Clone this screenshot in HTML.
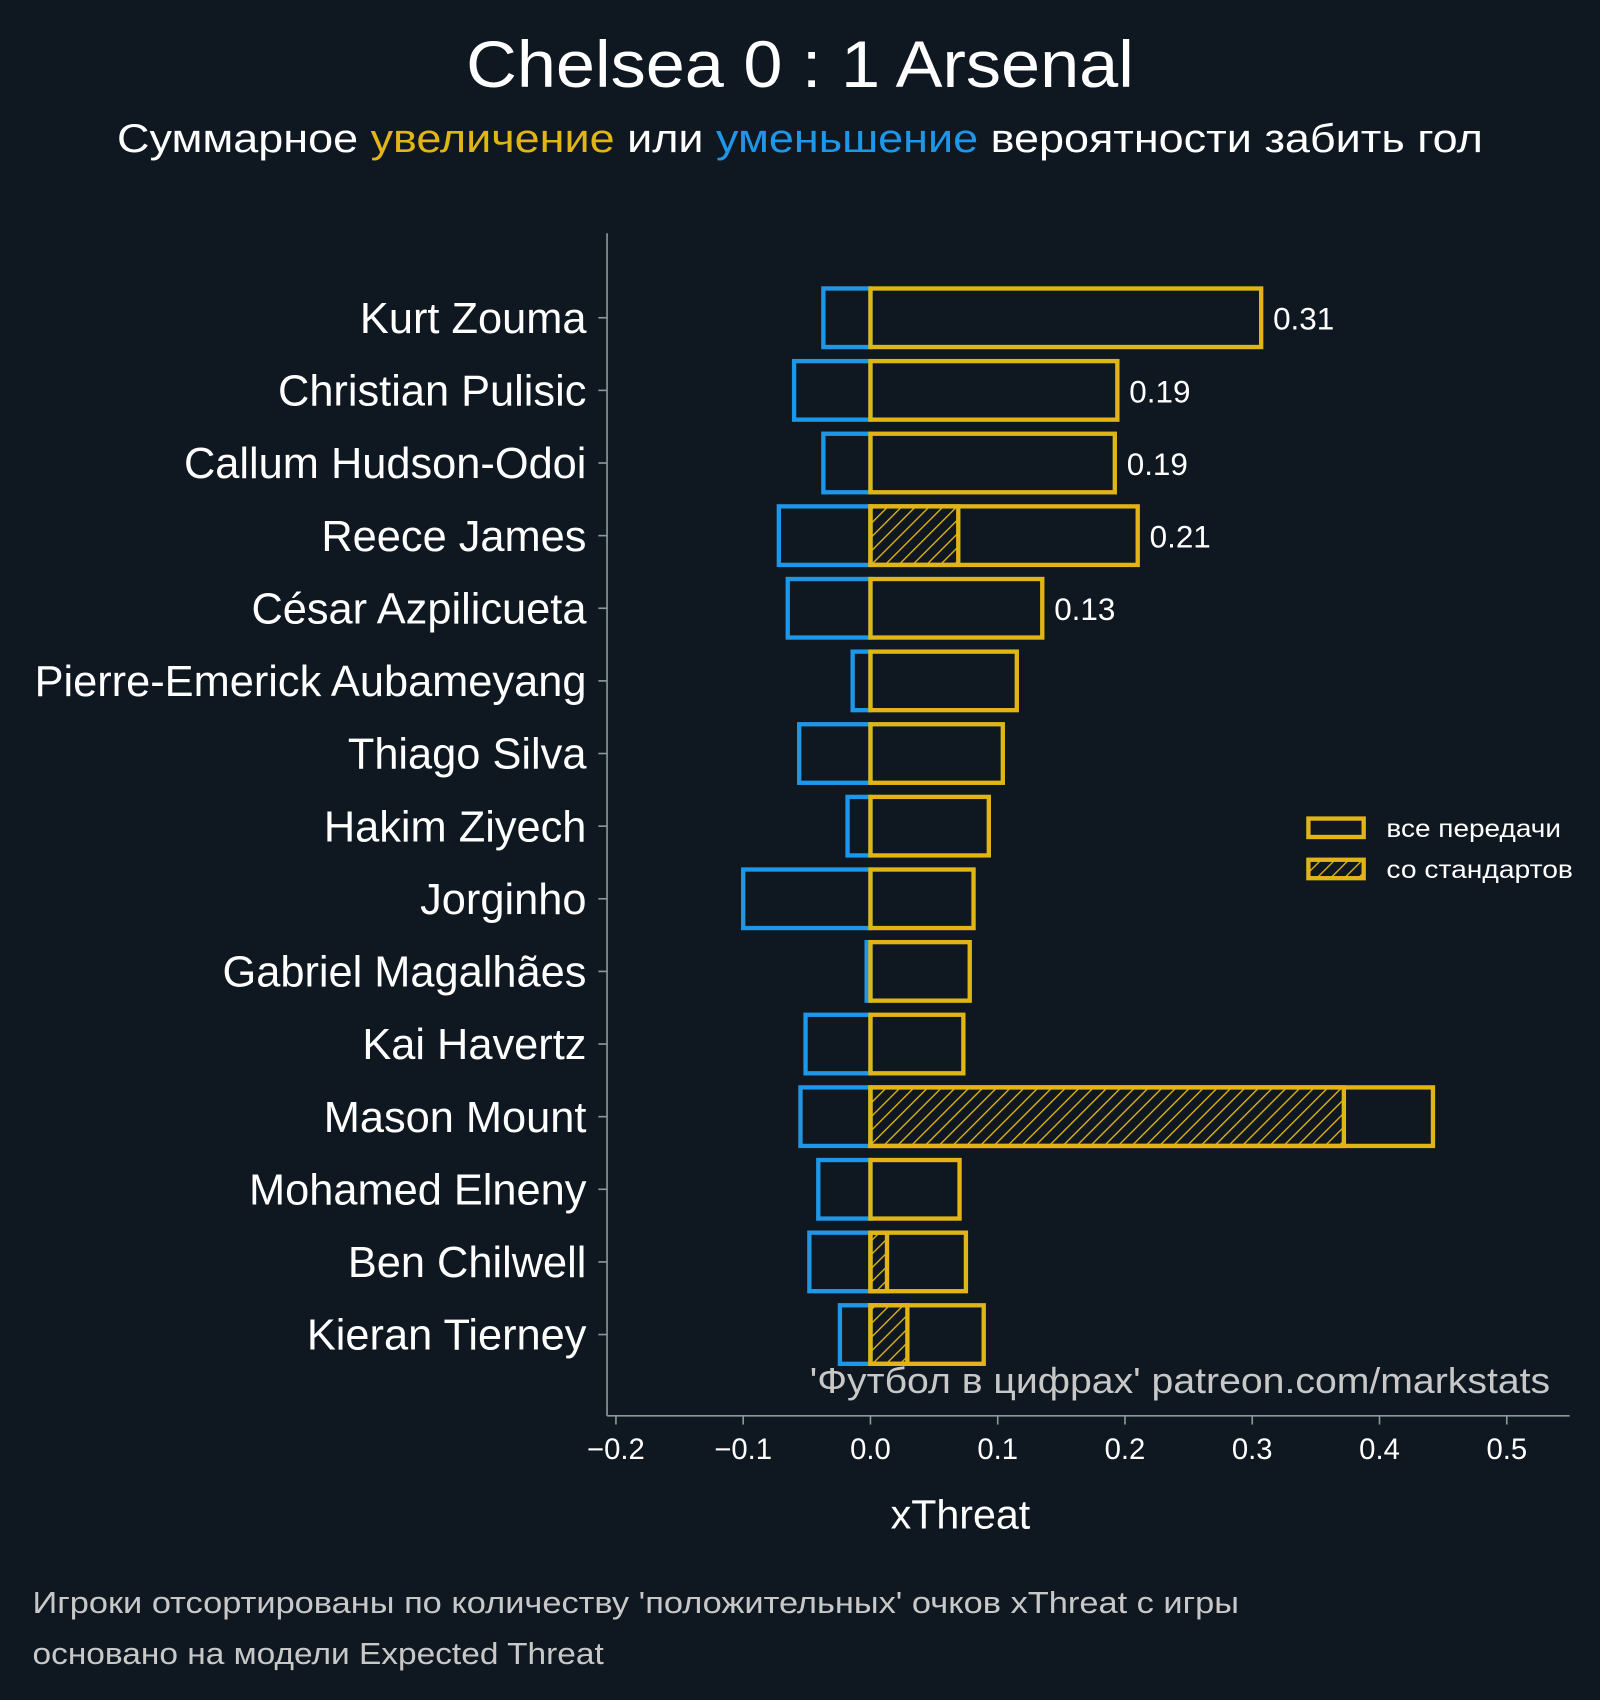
<!DOCTYPE html>
<html><head><meta charset="utf-8">
<style>
html,body{margin:0;padding:0;background:#0f1820;}
svg{display:block;font-family:"Liberation Sans","DejaVu Sans",sans-serif;}
</style></head>
<body>
<svg id="chart" width="1600" height="1700" viewBox="0 0 1476 1568" xmlns="http://www.w3.org/2000/svg">
<defs>
<pattern id="hatch" patternUnits="userSpaceOnUse" width="9" height="9" patternTransform="rotate(45)">
<line x1="0" y1="0" x2="0" y2="9" stroke="#e0b515" stroke-width="2.5"/>
</pattern>
</defs>
<rect width="1476" height="1568" fill="#0f1820"/>
<text x="430" y="80" textLength="616" lengthAdjust="spacingAndGlyphs" font-size="61" fill="#ffffff">Chelsea 0 : 1 Arsenal</text>
<text x="108" y="140" textLength="1260" lengthAdjust="spacingAndGlyphs" font-size="37" fill="#ffffff">Суммарное <tspan fill="#e0b515">увеличение</tspan> или <tspan fill="#1f97e8">уменьшение</tspan> вероятности забить гол</text>
<line x1="560" y1="215" x2="560" y2="1306" stroke="#8a9a9a" stroke-width="1.5"/>
<line x1="560" y1="1306" x2="1448" y2="1306" stroke="#8a9a9a" stroke-width="1.5"/>
<g id="bars"></g>
<g id="yticks"></g>
<g id="xticks"></g>
<text x="886" y="1410" text-anchor="middle" font-size="38" fill="#ffffff">xThreat</text>
<text x="747" y="1285" textLength="683" lengthAdjust="spacingAndGlyphs" font-size="33" fill="#c8c8c8">'Футбол в цифрах' patreon.com/markstats</text>
<g>
<rect x="1207" y="755" width="51" height="17" fill="none" stroke="#e0b515" stroke-width="4"/>
<text x="1279" y="772" textLength="161" lengthAdjust="spacingAndGlyphs" font-size="23" fill="#ffffff">все передачи</text>
<rect x="1207" y="793" width="51" height="17" fill="url(#hatch)" stroke="#e0b515" stroke-width="4"/>
<text x="1279" y="810" textLength="172" lengthAdjust="spacingAndGlyphs" font-size="23" fill="#ffffff">со стандартов</text>
</g>
<text x="30" y="1488" textLength="1113" lengthAdjust="spacingAndGlyphs" font-size="28" fill="#c8c8c8">Игроки отсортированы по количеству 'положительных' очков xThreat с игры</text>
<text x="30" y="1535" textLength="527" lengthAdjust="spacingAndGlyphs" font-size="28" fill="#c8c8c8">основано на модели Expected Threat</text>
</svg>
<script>
const players = ["Kurt Zouma","Christian Pulisic","Callum Hudson-Odoi","Reece James","César Azpilicueta","Pierre-Emerick Aubameyang","Thiago Silva","Hakim Ziyech","Jorginho","Gabriel Magalhães","Kai Havertz","Mason Mount","Mohamed Elneny","Ben Chilwell","Kieran Tierney"];
const negValues = [-0.037,-0.060,-0.037,-0.072,-0.065,-0.014,-0.056,-0.018,-0.100,-0.003,-0.051,-0.055,-0.041,-0.048,-0.024];
const posValues = [0.307,0.194,0.192,0.210,0.135,0.115,0.104,0.093,0.081,0.078,0.073,0.442,0.070,0.075,0.089];
const setPieceValues = [0,0,0,0.069,0,0,0,0,0,0,0,0.372,0,0.013,0.029];
const valueLabels = ["0.31","0.19","0.19","0.21","0.13","","","","","","","","","",""];
const xTicks = [-0.2,-0.1,0.0,0.1,0.2,0.3,0.4,0.5];
const xTickLabels = ["−0.2","−0.1","0.0","0.1","0.2","0.3","0.4","0.5"];

const NS="http://www.w3.org/2000/svg";
const xs = v => 803 + v*1174;
const ys = i => 293 + i*67;
const BH = 54;
function mk(tag, attrs, parent){const e=document.createElementNS(NS,tag);for(const k in attrs)e.setAttribute(k,attrs[k]);parent.appendChild(e);return e;}
const bars=document.getElementById('bars'), yt=document.getElementById('yticks'), xt=document.getElementById('xticks');
players.forEach((p,i)=>{
  const y=ys(i);
  let r=mk('rect',{x:xs(negValues[i]),y:y-BH/2,width:xs(0)-xs(negValues[i]),height:BH,fill:'none',stroke:'#1f97e8','stroke-width':4},bars);
  
  
  if(setPieceValues[i]>0){
    let s=mk('rect',{x:xs(0),y:y-BH/2,width:xs(setPieceValues[i])-xs(0),height:BH,fill:'url(#hatch)',stroke:'#e0b515','stroke-width':4},bars);
    
    
  }
  let q=mk('rect',{x:xs(0),y:y-BH/2,width:xs(posValues[i])-xs(0),height:BH,fill:'none',stroke:'#e0b515','stroke-width':4},bars);
  
  
  if(valueLabels[i]){
    let t=mk('text',{x:xs(posValues[i])+11,y:y+11,'font-size':29,fill:'#ffffff'},bars);
    t.textContent=valueLabels[i];
    
    
  }
  let tk=mk('line',{x1:552,y1:y,x2:560,y2:y,stroke:'#8a9a9a','stroke-width':1.5},yt);
  
  
  let lb=mk('text',{x:541,y:y+14,'text-anchor':'end','font-size':40,fill:'#ffffff'},yt);
  lb.textContent=p;
  
  
});
xTicks.forEach((v,i)=>{
  let tk=mk('line',{x1:xs(v),y1:1306,x2:xs(v),y2:1314,stroke:'#8a9a9a','stroke-width':1.5},xt);
  
  
  let lb=mk('text',{x:xs(v),y:1346,'text-anchor':'middle','font-size':27,fill:'#ffffff'},xt);
  lb.textContent=xTickLabels[i];
  
  
});
</script>
</body></html>
